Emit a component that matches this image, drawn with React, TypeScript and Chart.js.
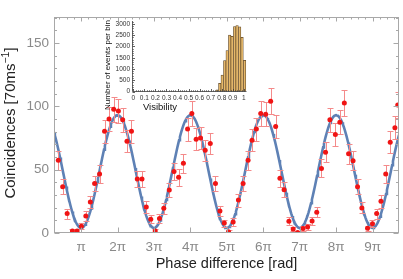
import React, { useEffect, useRef } from "react";
import { Chart, registerables } from "chart.js";

Chart.register(...registerables);

// ---------- main plot data (phase in units of π) ----------
const phaseOverPi = [
  0.372, 0.492, 0.615, 0.76, 0.888, 1.005, 1.128, 1.251, 1.369, 1.505,
  1.642, 1.765, 1.893, 2.022, 2.139, 2.257, 2.38, 2.541, 2.669, 2.787,
  2.91, 3.033, 3.15, 3.268, 3.418, 3.549, 3.675, 3.806, 3.921, 4.038,
  4.156, 4.276, 4.404, 4.544, 4.686, 4.809, 4.929, 5.046, 5.172, 5.317,
  5.445, 5.582, 5.691, 5.809, 5.929, 6.066, 6.202, 6.339, 6.456, 6.571,
  6.702, 6.82, 6.943, 7.09, 7.216, 7.339, 7.467, 7.596, 7.708, 7.828,
  7.978, 8.101, 8.224, 8.341, 8.464, 8.587, 8.705, 8.861, 8.997, 9.112,
  9.23, 9.361, 9.484, 9.612, 9.69,
];
const coincidences = [
  57.5, 36.5, 15.3, 1.6, 1.6, 5.3, 13.5, 24.5, 39, 46.5,
  80.4, 90, 97.6, 96.3, 89.4, 72.5, 80.4, 42.6, 42.6, 20.6,
  10.9, 1.6, 11.5, 19.6, 34, 48.5, 44, 55, 82, 94.3,
  74, 75, 65.3, 70.7, 39, 17.3, 7.8, 1, 8.6, 26,
  39, 57.5, 73.3, 82, 94.3, 93.8, 104, 84, 43.2, 34.2,
  9.3, 3.2, 0.3, 3.6, 4.8, 9.5, 16.4, 51, 63.7, 89.4,
  77.8, 87.5, 102.6, 62.5, 57, 36.6, 19.8, 3.8, 7.4, 15.3,
  25, 46.6, 71.7, 83, 101,
];
const coincidenceErr = [
  7.6, 6, 3.9, 1.3, 1.3, 2.3, 3.7, 5, 6.2, 6.8,
  9, 9.5, 9.9, 9.8, 9.5, 8.5, 9, 6.5, 6.5, 4.5,
  3.3, 1.3, 3.4, 4.4, 5.8, 7, 6.6, 7.4, 9, 9.7,
  8.6, 8.7, 8.1, 8.4, 6.2, 4.2, 2.8, 1, 2.9, 5.1,
  6.2, 7.6, 8.6, 9, 9.7, 9.7, 10.2, 9.2, 6.6, 5.8,
  3, 1.8, 0.6, 1.9, 2.2, 3.1, 4, 7.1, 8, 9.5,
  8.8, 9.4, 10.1, 7.9, 7.5, 6, 4.4, 1.9, 2.7, 3.9,
  5, 6.8, 8.5, 9.1, 10,
];

// fitted model: offset + amplitude * cos(phase)
const fitOffset = 48.5;
const fitAmplitude = 44.5;

const xRange = [0.254, 9.725];
const yRange = [0, 170.5];
const xTickMultiples = [1, 2, 3, 4, 5, 6, 7, 8, 9];
const yTickValues = [0, 50, 100, 150];

// ---------- inset histogram ----------
const visibilityBinCenters = [0.759, 0.782, 0.804, 0.827, 0.849, 0.872, 0.894, 0.917, 0.939, 0.962, 0.984, 1.007];
const eventsPerBin = [70, 360, 730, 1370, 1820, 2500, 2450, 2880, 2930, 2870, 2400, 1380];
const insetYTicks = [0, 500, 1000, 1500, 2000, 2500, 3000];
const insetXTicks = [0, 0.1, 0.2, 0.3, 0.4, 0.5, 0.6, 0.7, 0.8, 0.9, 1];

const FONT = "'Liberation Sans', Arial, sans-serif";
const W = 403;
const H = 279;

const mainDecor = {
  id: "mainDecor",
  beforeDatasetDraw(chart: any, args: any) {
    if (args.index !== 1) return;
    const { ctx, chartArea: a } = chart;
    const x = chart.scales.x;
    const y = chart.scales.y;
    ctx.save();
    ctx.beginPath();
    ctx.rect(a.left, a.top, a.right - a.left, a.bottom - a.top);
    ctx.clip();
    ctx.strokeStyle = "#f48a8a";
    ctx.lineWidth = 1;
    phaseOverPi.forEach((p, i) => {
      const px = Math.round(x.getPixelForValue(p)) + 0.5;
      const t = Math.round(y.getPixelForValue(coincidences[i] + coincidenceErr[i])) + 0.5;
      const b = Math.round(y.getPixelForValue(coincidences[i] - coincidenceErr[i])) + 0.5;
      ctx.beginPath();
      ctx.moveTo(px, t);
      ctx.lineTo(px, b);
      ctx.moveTo(px - 3, t);
      ctx.lineTo(px + 3, t);
      ctx.moveTo(px - 3, b);
      ctx.lineTo(px + 3, b);
      ctx.stroke();
    });
    ctx.restore();
  },
  afterDraw(chart: any) {
    const { ctx, chartArea: a } = chart;
    const x = chart.scales.x;
    const y = chart.scales.y;
    const L = Math.round(a.left) + 0.5;
    const R = Math.round(a.right) - 0.5;
    const T = Math.round(a.top) + 0.5;
    const B = Math.round(a.bottom) - 0.5;
    ctx.save();
    ctx.strokeStyle = "#a8a8a8";
    ctx.lineWidth = 1;
    ctx.strokeRect(L, T, R - L, B - T);
    ctx.beginPath();
    for (let v = 0; v <= yRange[1]; v += 10) {
      const len = v % 50 === 0 ? 5 : 2.5;
      const py = Math.round(y.getPixelForValue(v)) + 0.5;
      ctx.moveTo(L, py);
      ctx.lineTo(L + len, py);
      ctx.moveTo(R, py);
      ctx.lineTo(R - len, py);
    }
    xTickMultiples.forEach((k) => {
      const px = Math.round(x.getPixelForValue(k)) + 0.5;
      ctx.moveTo(px, B);
      ctx.lineTo(px, B - 5);
    });
    for (let m = 2; m <= 48; m++) {
      const v = m / 5;
      if (v < xRange[0] || v > xRange[1]) continue;
      const px = Math.round(x.getPixelForValue(v)) + 0.5;
      const len = m % 5 === 0 ? 4 : 2;
      ctx.moveTo(px, T);
      ctx.lineTo(px, T + len);
    }
    ctx.stroke();

    ctx.fillStyle = "#8a8a8a";
    ctx.font = `13.5px ${FONT}`;
    ctx.textAlign = "right";
    ctx.textBaseline = "middle";
    yTickValues.forEach((v) => {
      ctx.fillText(String(v), a.left - 5, y.getPixelForValue(v));
    });
    ctx.textAlign = "center";
    xTickMultiples.forEach((k) => {
      ctx.fillText(k === 1 ? "π" : `${k}π`, x.getPixelForValue(k), 247);
    });

    ctx.fillStyle = "#222";
    ctx.font = `14.5px ${FONT}`;
    ctx.fillText("Phase difference [rad]", (a.left + a.right) / 2, 264);

    // rotated y title with superscript
    ctx.translate(11, (a.top + a.bottom) / 2 - 2);
    ctx.rotate(-Math.PI / 2);
    ctx.textBaseline = "middle";
    ctx.textAlign = "left";
    const big = `15px ${FONT}`;
    const small = `10.5px ${FONT}`;
    const p1 = "Coincidences [70ms";
    const p2 = "−1";
    const p3 = "]";
    ctx.font = big;
    const w1 = ctx.measureText(p1).width;
    const w3 = ctx.measureText(p3).width;
    ctx.font = small;
    const w2 = ctx.measureText(p2).width;
    const total = w1 + w2 + w3;
    let cx = -total / 2;
    ctx.font = big;
    ctx.fillText(p1, cx, 0);
    cx += w1;
    ctx.font = small;
    ctx.fillText(p2, cx, -5);
    cx += w2;
    ctx.font = big;
    ctx.fillText(p3, cx, 0);
    ctx.restore();
  },
};

const insetDecor = {
  id: "insetDecor",
  afterDraw(chart: any) {
    const { ctx, chartArea: a } = chart;
    const x = chart.scales.x;
    const y = chart.scales.y;
    const L = Math.round(a.left) + 0.5;
    const B = Math.round(a.bottom) - 0.5;
    ctx.save();
    ctx.strokeStyle = "#3a3a3a";
    ctx.lineWidth = 0.8;
    ctx.beginPath();
    ctx.moveTo(L, a.top);
    ctx.lineTo(L, B);
    ctx.lineTo(a.right, B);
    for (let v = 0; v <= 3100; v += 100) {
      const len = v % 500 === 0 ? 2.5 : 1.2;
      const py = Math.round(y.getPixelForValue(v)) + 0.5;
      ctx.moveTo(L, py);
      ctx.lineTo(L + len, py);
    }
    for (let i = 0; i <= 50; i++) {
      const v = i / 50;
      const len = i % 5 === 0 ? 2.5 : 1.2;
      const px = Math.round(x.getPixelForValue(v)) + 0.5;
      ctx.moveTo(px, B);
      ctx.lineTo(px, B - len);
    }
    ctx.stroke();

    ctx.fillStyle = "#333";
    ctx.font = `6.5px ${FONT}`;
    ctx.textAlign = "right";
    ctx.textBaseline = "middle";
    insetYTicks.forEach((v) => ctx.fillText(String(v), L - 2.5, y.getPixelForValue(v)));
    ctx.textAlign = "center";
    insetXTicks.forEach((v) => ctx.fillText(String(v), x.getPixelForValue(v), B + 7));

    ctx.fillStyle = "#111";
    ctx.font = `9.5px ${FONT}`;
    ctx.fillText("Visibility", 160, 107);

    ctx.translate(108, 65);
    ctx.rotate(-Math.PI / 2);
    ctx.font = `8px ${FONT}`;
    ctx.fillText("Number of events per bin", 0, 0);
    ctx.restore();
  },
};

export default function App() {
  const mainRef = useRef<HTMLCanvasElement>(null);
  const insetRef = useRef<HTMLCanvasElement>(null);

  useEffect(() => {
    document.body.style.margin = "0";
    const fitPoints: { x: number; y: number }[] = [];
    const steps = 400;
    for (let i = 0; i <= steps; i++) {
      const p = xRange[0] + ((xRange[1] - xRange[0]) * i) / steps;
      fitPoints.push({ x: p, y: fitOffset + fitAmplitude * Math.cos(p * Math.PI) });
    }
    const main = new Chart(mainRef.current as HTMLCanvasElement, {
      type: "scatter",
      data: {
        datasets: [
          {
            type: "line",
            data: fitPoints,
            borderColor: "#5E81B5",
            borderWidth: 2.6,
            pointRadius: 0,
            tension: 0,
            order: 2,
          } as any,
          {
            type: "scatter",
            data: phaseOverPi.map((p, i) => ({ x: p, y: coincidences[i] })),
            backgroundColor: "#f01414",
            borderWidth: 0,
            pointRadius: 2.5,
            order: 1,
          },
        ],
      },
      options: {
        animation: false,
        responsive: false,
        layout: { padding: { left: 54, right: 2, top: 17, bottom: 46 } },
        scales: {
          x: { type: "linear", min: xRange[0], max: xRange[1], display: false },
          y: { type: "linear", min: yRange[0], max: yRange[1], display: false },
        },
        plugins: { legend: { display: false }, tooltip: { enabled: false } },
      },
      plugins: [mainDecor],
    });

    const inset = new Chart(insetRef.current as HTMLCanvasElement, {
      type: "bar",
      data: {
        datasets: [
          {
            data: visibilityBinCenters.map((c, i) => ({ x: c, y: eventsPerBin[i] })),
            backgroundColor: "#e6b86a",
            borderColor: "#5c4526",
            borderWidth: 0.7,
            barPercentage: 1,
            categoryPercentage: 1,
          } as any,
        ],
      },
      options: {
        animation: false,
        responsive: false,
        layout: { padding: { left: 132, right: 156.5, top: 21, bottom: 187.5 } },
        scales: {
          x: { type: "linear", min: -0.012, max: 1.024, offset: false, grid: { offset: false }, display: false },
          y: { type: "linear", min: 0, max: 3130, display: false },
        },
        plugins: { legend: { display: false }, tooltip: { enabled: false } },
      },
      plugins: [insetDecor],
    });

    return () => {
      main.destroy();
      inset.destroy();
    };
  }, []);

  return (
    <div style={{ position: "relative", width: W, height: H, background: "#fff" }}>
      <canvas ref={mainRef} width={W} height={H} style={{ position: "absolute", left: 0, top: 0 }} />
      <canvas ref={insetRef} width={W} height={H} style={{ position: "absolute", left: 0, top: 0 }} />
    </div>
  );
}
